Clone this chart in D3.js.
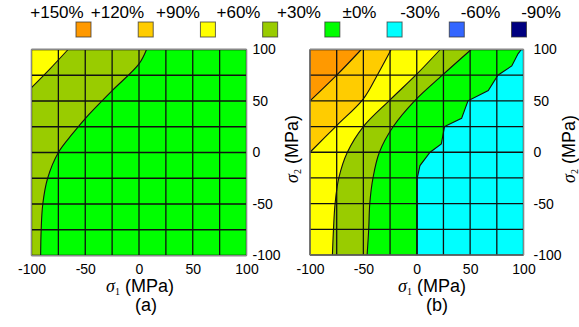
<!DOCTYPE html>
<html>
<head>
<meta charset="utf-8">
<script src="https://cdn.jsdelivr.net/npm/d3@7"></script>
<style>
  body { margin: 0; background: #fff; }
  text { font-family: "Liberation Sans", Arial, sans-serif; fill: #000; }
</style>
</head>
<body>
<svg id="chart" width="579" height="327"></svg>
<script>
// legend levels (%)
const levels = [150, 120, 90, 60, 30, 0, -30, -60, -90];
// colour bands, each named by its lower level
const bands = [120, 90, 60, 30, 0, -30, -60, -90];
const bandColors = ["#ff9900", "#ffcc00", "#ffff00", "#99cc00", "#00ff00", "#00ffff", "#3366ff", "#000080"];

const ticks = [-100, -50, 0, 50, 100];
const meshLines = [-100, -75, -50, -25, 0, 25, 50, 75, 100];

// contour lines as [sigma1, sigma2] in MPa, from left/bottom edge to top/right edge
// panel (a)
const a30 = [[-91.5, -100], [-91, -75], [-89.5, -50], [-85, -25], [-75, 0], [-62, 18], [-50, 33], [-25, 60], [0, 86], [7, 100]];
const a60 = [[-100, 63], [-83, 81], [-66, 100]];
// panel (b)
const b0 = [[0.5, -100], [0.5, -25], [3, -13], [12.5, 0], [23, 8], [26, 25], [42, 33], [48, 50], [67, 60], [76, 75], [89, 84], [95, 96], [98, 100]];
const b30 = [[-46.5, -100], [-45, -75], [-44, -50], [-41, -25], [-35, 0], [-22, 25], [-2, 50], [24, 75], [51, 100]];
const b60 = [[-79, -100], [-78, -75], [-76.5, -50], [-73, -25], [-65, 0], [-50, 25], [-25, 51], [0, 76], [22, 100]];
const b90 = [[-100, 0], [-75, 26], [-50, 52], [-37, 75], [-24, 100]];
const b120 = [[-100, 50], [-75, 75], [-52, 100]];

const color = d3.scaleOrdinal(bands, bandColors);
const svg = d3.select("#chart");

function pct(v) {
  if (v === 0) return "\u00b10%";
  return (v > 0 ? "+" : "") + v + "%";
}

// legend
const lx = d3.scalePoint(levels, [57, 541]);
const sx = d3.scalePoint(bands, [83.5, 519]);
svg.append("g").selectAll("text").data(levels).join("text")
  .attr("x", d => lx(d)).attr("y", 18)
  .attr("text-anchor", "middle")
  .attr("font-size", 17)
  .text(pct);
svg.append("g").selectAll("rect").data(bands).join("rect")
  .attr("x", d => sx(d) - 7.5).attr("y", 22)
  .attr("width", 15).attr("height", 15)
  .attr("fill", d => color(d))
  .attr("stroke", "#333").attr("stroke-opacity", 0.75);

function sigma(t, sub) {
  t.append("tspan").attr("font-family", "Liberation Serif, serif").attr("font-style", "italic").text("\u03c3");
  t.append("tspan").attr("font-family", "Liberation Serif, serif").attr("font-size", 10).attr("dy", 3).text(sub);
  t.append("tspan").attr("dy", -3).text(" (MPa)");
}

function panel(p) {
  const x = d3.scaleLinear().domain([-100, 100]).range([p.left, p.right]);
  const y = d3.scaleLinear().domain([-100, 100]).range([p.bottom, p.top]);
  const g = svg.append("g");
  const id = "clip" + p.tag;

  g.append("clipPath").attr("id", id).append("rect")
    .attr("x", x(-100)).attr("y", y(100))
    .attr("width", x(100) - x(-100)).attr("height", y(-100) - y(100));

  const area = g.append("g").attr("clip-path", "url(#" + id + ")");
  area.append("rect")
    .attr("x", x(-100)).attr("y", y(100))
    .attr("width", x(100) - x(-100)).attr("height", y(-100) - y(100))
    .attr("fill", color(p.base));

  const lines = p.lines.slice().sort((a, b) => a.level - b.level);
  const lineGen = l => d3.line().x(d => x(d[0])).y(d => y(d[1]))
    .curve(l.smooth ? d3.curveCatmullRom : d3.curveLinear);

  // filled bands, painted from low to high
  lines.forEach(l => {
    const s = l.points[0], e = l.points[l.points.length - 1];
    const corners = [];
    if (e[1] < 100) corners.push([100, 100]);
    corners.push([-100, 100]);
    if (s[0] > -100) corners.push([-100, -100]);
    const d = lineGen(l)(l.points) + corners.map(c => "L" + x(c[0]) + "," + y(c[1])).join("") + "Z";
    area.append("path").attr("d", d).attr("fill", color(l.level));
  });

  // mesh
  area.append("g").selectAll("line").data(meshLines).join("line")
    .attr("x1", d => x(d)).attr("x2", d => x(d))
    .attr("y1", y(-100)).attr("y2", y(100))
    .attr("stroke", "#111").attr("stroke-width", 1.3);
  area.append("g").selectAll("line").data(meshLines).join("line")
    .attr("y1", d => y(d)).attr("y2", d => y(d))
    .attr("x1", x(-100)).attr("x2", x(100))
    .attr("stroke", "#111").attr("stroke-width", 1.3);

  // contour lines
  lines.forEach(l => {
    area.append("path").attr("d", lineGen(l)(l.points))
      .attr("fill", "none").attr("stroke", "#111").attr("stroke-width", 1.1);
  });

  g.append("rect")
    .attr("x", x(-100)).attr("y", y(100))
    .attr("width", x(100) - x(-100)).attr("height", y(-100) - y(100))
    .attr("fill", "none").attr("stroke", "#888").attr("stroke-width", 1);

  // axes
  const xa = g.append("g").attr("transform", "translate(0," + y(-100) + ")")
    .call(d3.axisBottom(x).tickValues(ticks).tickSize(0).tickPadding(9).tickFormat(d => String(d)));
  const ya = g.append("g").attr("transform", "translate(" + x(100) + ",0)")
    .call(d3.axisRight(y).tickValues(ticks).tickSize(0).tickPadding(p.ypad).tickFormat(d => String(d)));
  [xa, ya].forEach(a => {
    a.select(".domain").remove();
    a.selectAll("text").attr("font-size", 14).attr("font-family", "Liberation Sans, Arial, sans-serif");
  });

  const xt = g.append("text").attr("x", p.xTitle).attr("y", 292)
    .attr("text-anchor", "middle").attr("font-size", 18);
  sigma(xt, "1");
  g.append("text").attr("x", p.capX).attr("y", 311)
    .attr("text-anchor", "middle").attr("font-size", 18).text(p.tag);
  const yt = g.append("text")
    .attr("transform", "translate(" + p.yTitle + ",149) rotate(-90)")
    .attr("text-anchor", "middle").attr("font-size", 18);
  sigma(yt, "2");
}

panel({
  tag: "(a)", left: 31.5, right: 246.5, top: 49.5, bottom: 255.5, ypad: 6,
  base: 0,
  lines: [{level: 30, points: a30, smooth: true}, {level: 60, points: a60, smooth: true}],
  xTitle: 140, capX: 146, yTitle: 298
});
panel({
  tag: "(b)", left: 310, right: 523.5, top: 49.5, bottom: 255, ypad: 10,
  base: -30,
  lines: [
    {level: 0, points: b0, smooth: false},
    {level: 30, points: b30, smooth: true},
    {level: 60, points: b60, smooth: true},
    {level: 90, points: b90, smooth: true},
    {level: 120, points: b120, smooth: true}
  ],
  xTitle: 432, capX: 437, yTitle: 575
});
</script>
</body>
</html>
